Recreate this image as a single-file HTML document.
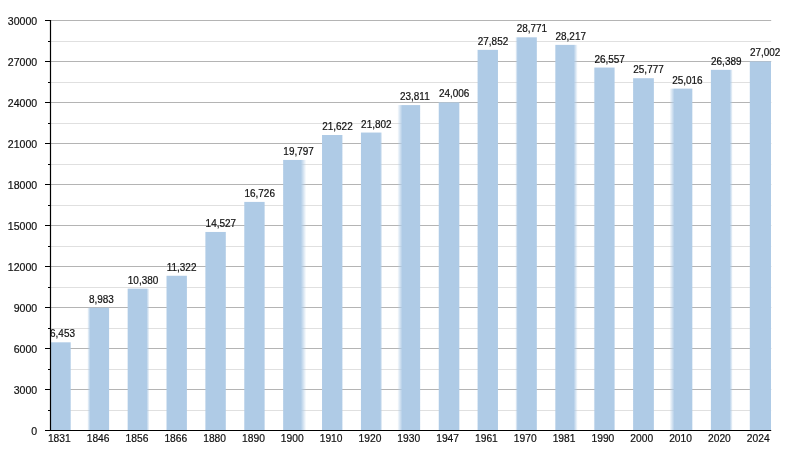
<!DOCTYPE html><html><head><meta charset="utf-8"><title>Population chart</title><style>html,body{margin:0;padding:0;background:#fff}svg{display:block}text{font-family:"Liberation Sans",Arial,Helvetica,sans-serif;fill:#111;stroke:#111;stroke-width:0.2px}</style></head><body>
<svg width="800" height="450" viewBox="0 0 800 450">
<defs><filter id="b" x="-10%" y="-1%" width="120%" height="102%"><feGaussianBlur stdDeviation="0.01 0.35"/></filter></defs>
<rect width="800" height="450" fill="#fff"/>
<line x1="50.5" x2="771.2" y1="410.50" y2="410.50" stroke="#e0e0e0" stroke-width="1"/>
<line x1="50.5" x2="771.2" y1="389.50" y2="389.50" stroke="#b4b4b4" stroke-width="1"/>
<line x1="50.5" x2="771.2" y1="369.50" y2="369.50" stroke="#e0e0e0" stroke-width="1"/>
<line x1="50.5" x2="771.2" y1="348.50" y2="348.50" stroke="#b4b4b4" stroke-width="1"/>
<line x1="50.5" x2="771.2" y1="328.50" y2="328.50" stroke="#e0e0e0" stroke-width="1"/>
<line x1="50.5" x2="771.2" y1="307.50" y2="307.50" stroke="#b4b4b4" stroke-width="1"/>
<line x1="50.5" x2="771.2" y1="287.50" y2="287.50" stroke="#e0e0e0" stroke-width="1"/>
<line x1="50.5" x2="771.2" y1="266.50" y2="266.50" stroke="#b4b4b4" stroke-width="1"/>
<line x1="50.5" x2="771.2" y1="246.50" y2="246.50" stroke="#e0e0e0" stroke-width="1"/>
<line x1="50.5" x2="771.2" y1="225.50" y2="225.50" stroke="#b4b4b4" stroke-width="1"/>
<line x1="50.5" x2="771.2" y1="205.50" y2="205.50" stroke="#e0e0e0" stroke-width="1"/>
<line x1="50.5" x2="771.2" y1="184.50" y2="184.50" stroke="#b4b4b4" stroke-width="1"/>
<line x1="50.5" x2="771.2" y1="164.50" y2="164.50" stroke="#e0e0e0" stroke-width="1"/>
<line x1="50.5" x2="771.2" y1="143.50" y2="143.50" stroke="#b4b4b4" stroke-width="1"/>
<line x1="50.5" x2="771.2" y1="123.50" y2="123.50" stroke="#e0e0e0" stroke-width="1"/>
<line x1="50.5" x2="771.2" y1="102.50" y2="102.50" stroke="#b4b4b4" stroke-width="1"/>
<line x1="50.5" x2="771.2" y1="82.50" y2="82.50" stroke="#e0e0e0" stroke-width="1"/>
<line x1="50.5" x2="771.2" y1="61.50" y2="61.50" stroke="#b4b4b4" stroke-width="1"/>
<line x1="50.5" x2="771.2" y1="41.50" y2="41.50" stroke="#e0e0e0" stroke-width="1"/>
<line x1="50.5" x2="771.2" y1="20.50" y2="20.50" stroke="#b4b4b4" stroke-width="1"/>
<defs>
<linearGradient id="g0" x1="0" y1="0" x2="1" y2="0"><stop offset="0" stop-color="#afcbe6" stop-opacity="0"/><stop offset="0.0282" stop-color="#afcbe6"/><stop offset="0.9437" stop-color="#afcbe6"/><stop offset="1" stop-color="#afcbe6" stop-opacity="0"/></linearGradient>
<linearGradient id="g1" x1="0" y1="0" x2="1" y2="0"><stop offset="0" stop-color="#afcbe6" stop-opacity="0"/><stop offset="0.1339" stop-color="#afcbe6"/><stop offset="0.9554" stop-color="#afcbe6"/><stop offset="1" stop-color="#afcbe6" stop-opacity="0"/></linearGradient>
<linearGradient id="g2" x1="0" y1="0" x2="1" y2="0"><stop offset="0" stop-color="#afcbe6" stop-opacity="0"/><stop offset="0.0446" stop-color="#afcbe6"/><stop offset="0.8661" stop-color="#afcbe6"/><stop offset="1" stop-color="#afcbe6" stop-opacity="0"/></linearGradient>
<linearGradient id="g3" x1="0" y1="0" x2="1" y2="0"><stop offset="0" stop-color="#afcbe6" stop-opacity="0"/><stop offset="0.0467" stop-color="#afcbe6"/><stop offset="0.9533" stop-color="#afcbe6"/><stop offset="1" stop-color="#afcbe6" stop-opacity="0"/></linearGradient>
<linearGradient id="g4" x1="0" y1="0" x2="1" y2="0"><stop offset="0" stop-color="#afcbe6" stop-opacity="0"/><stop offset="0.0467" stop-color="#afcbe6"/><stop offset="0.9533" stop-color="#afcbe6"/><stop offset="1" stop-color="#afcbe6" stop-opacity="0"/></linearGradient>
<linearGradient id="g5" x1="0" y1="0" x2="1" y2="0"><stop offset="0" stop-color="#afcbe6" stop-opacity="0"/><stop offset="0.0463" stop-color="#afcbe6"/><stop offset="0.9352" stop-color="#afcbe6"/><stop offset="1" stop-color="#afcbe6" stop-opacity="0"/></linearGradient>
<linearGradient id="g6" x1="0" y1="0" x2="1" y2="0"><stop offset="0" stop-color="#afcbe6" stop-opacity="0"/><stop offset="0.0424" stop-color="#afcbe6"/><stop offset="0.7712" stop-color="#afcbe6"/><stop offset="1" stop-color="#afcbe6" stop-opacity="0"/></linearGradient>
<linearGradient id="g7" x1="0" y1="0" x2="1" y2="0"><stop offset="0" stop-color="#afcbe6" stop-opacity="0"/><stop offset="0.0467" stop-color="#afcbe6"/><stop offset="0.9533" stop-color="#afcbe6"/><stop offset="1" stop-color="#afcbe6" stop-opacity="0"/></linearGradient>
<linearGradient id="g8" x1="0" y1="0" x2="1" y2="0"><stop offset="0" stop-color="#afcbe6" stop-opacity="0"/><stop offset="0.0457" stop-color="#afcbe6"/><stop offset="0.9087" stop-color="#afcbe6"/><stop offset="1" stop-color="#afcbe6" stop-opacity="0"/></linearGradient>
<linearGradient id="g9" x1="0" y1="0" x2="1" y2="0"><stop offset="0" stop-color="#afcbe6" stop-opacity="0"/><stop offset="0.2137" stop-color="#afcbe6"/><stop offset="0.9573" stop-color="#afcbe6"/><stop offset="1" stop-color="#afcbe6" stop-opacity="0"/></linearGradient>
<linearGradient id="g10" x1="0" y1="0" x2="1" y2="0"><stop offset="0" stop-color="#afcbe6" stop-opacity="0"/><stop offset="0.0467" stop-color="#afcbe6"/><stop offset="0.9533" stop-color="#afcbe6"/><stop offset="1" stop-color="#afcbe6" stop-opacity="0"/></linearGradient>
<linearGradient id="g11" x1="0" y1="0" x2="1" y2="0"><stop offset="0" stop-color="#afcbe6" stop-opacity="0"/><stop offset="0.0467" stop-color="#afcbe6"/><stop offset="0.9533" stop-color="#afcbe6"/><stop offset="1" stop-color="#afcbe6" stop-opacity="0"/></linearGradient>
<linearGradient id="g12" x1="0" y1="0" x2="1" y2="0"><stop offset="0" stop-color="#afcbe6" stop-opacity="0"/><stop offset="0.1086" stop-color="#afcbe6"/><stop offset="0.9548" stop-color="#afcbe6"/><stop offset="1" stop-color="#afcbe6" stop-opacity="0"/></linearGradient>
<linearGradient id="g13" x1="0" y1="0" x2="1" y2="0"><stop offset="0" stop-color="#afcbe6" stop-opacity="0"/><stop offset="0.0437" stop-color="#afcbe6"/><stop offset="0.8253" stop-color="#afcbe6"/><stop offset="1" stop-color="#afcbe6" stop-opacity="0"/></linearGradient>
<linearGradient id="g14" x1="0" y1="0" x2="1" y2="0"><stop offset="0" stop-color="#afcbe6" stop-opacity="0"/><stop offset="0.0737" stop-color="#afcbe6"/><stop offset="0.9539" stop-color="#afcbe6"/><stop offset="1" stop-color="#afcbe6" stop-opacity="0"/></linearGradient>
<linearGradient id="g15" x1="0" y1="0" x2="1" y2="0"><stop offset="0" stop-color="#afcbe6" stop-opacity="0"/><stop offset="0.0467" stop-color="#afcbe6"/><stop offset="0.9533" stop-color="#afcbe6"/><stop offset="1" stop-color="#afcbe6" stop-opacity="0"/></linearGradient>
<linearGradient id="g16" x1="0" y1="0" x2="1" y2="0"><stop offset="0" stop-color="#afcbe6" stop-opacity="0"/><stop offset="0.2137" stop-color="#afcbe6"/><stop offset="0.9573" stop-color="#afcbe6"/><stop offset="1" stop-color="#afcbe6" stop-opacity="0"/></linearGradient>
<linearGradient id="g17" x1="0" y1="0" x2="1" y2="0"><stop offset="0" stop-color="#afcbe6" stop-opacity="0"/><stop offset="0.0446" stop-color="#afcbe6"/><stop offset="0.8661" stop-color="#afcbe6"/><stop offset="1" stop-color="#afcbe6" stop-opacity="0"/></linearGradient>
<linearGradient id="g18" x1="0" y1="0" x2="1" y2="0"><stop offset="0" stop-color="#afcbe6" stop-opacity="0"/><stop offset="0.0469" stop-color="#afcbe6"/><stop offset="0.9624" stop-color="#afcbe6"/><stop offset="1" stop-color="#afcbe6" stop-opacity="0"/></linearGradient>
</defs>
<g filter="url(#b)">
<rect x="49.56" y="342.31" width="21.80" height="88.19" fill="url(#g0)"/>
<rect x="87.24" y="307.73" width="22.40" height="122.77" fill="url(#g1)"/>
<rect x="127.12" y="288.64" width="22.40" height="141.86" fill="url(#g2)"/>
<rect x="166.01" y="275.77" width="21.40" height="154.73" fill="url(#g3)"/>
<rect x="204.89" y="231.96" width="21.40" height="198.54" fill="url(#g4)"/>
<rect x="243.77" y="201.91" width="21.60" height="228.59" fill="url(#g5)"/>
<rect x="282.65" y="159.94" width="23.60" height="270.56" fill="url(#g6)"/>
<rect x="321.53" y="135.00" width="21.40" height="295.50" fill="url(#g7)"/>
<rect x="360.42" y="132.54" width="21.90" height="297.96" fill="url(#g8)"/>
<rect x="397.30" y="105.08" width="23.40" height="325.42" fill="url(#g9)"/>
<rect x="438.18" y="102.42" width="21.70" height="328.08" fill="url(#g10)"/>
<rect x="477.06" y="49.86" width="21.40" height="380.64" fill="url(#g11)"/>
<rect x="515.24" y="37.30" width="22.10" height="393.20" fill="url(#g12)"/>
<rect x="554.83" y="44.87" width="22.90" height="385.63" fill="url(#g13)"/>
<rect x="593.41" y="67.55" width="21.70" height="362.95" fill="url(#g14)"/>
<rect x="632.59" y="78.21" width="21.80" height="352.29" fill="url(#g15)"/>
<rect x="669.47" y="88.61" width="23.40" height="341.89" fill="url(#g16)"/>
<rect x="710.35" y="69.85" width="22.40" height="360.65" fill="url(#g17)"/>
<rect x="749.24" y="61.47" width="22.20" height="369.03" fill="url(#g18)"/>
</g>
<line x1="50.5" x2="50.5" y1="20.0" y2="431.0" stroke="#000" stroke-width="1.2"/>
<line x1="45" x2="771.2" y1="430.5" y2="430.5" stroke="#000" stroke-width="1.2"/>
<line x1="45" x2="50.5" y1="430.50" y2="430.50" stroke="#000" stroke-width="1"/>
<text x="37.2" y="434.80" font-size="10.55" text-anchor="end">0</text>
<line x1="48" x2="50.5" y1="410.50" y2="410.50" stroke="#000" stroke-width="1"/>
<line x1="45" x2="50.5" y1="389.50" y2="389.50" stroke="#000" stroke-width="1"/>
<text x="37.2" y="393.80" font-size="10.55" text-anchor="end">3000</text>
<line x1="48" x2="50.5" y1="369.50" y2="369.50" stroke="#000" stroke-width="1"/>
<line x1="45" x2="50.5" y1="348.50" y2="348.50" stroke="#000" stroke-width="1"/>
<text x="37.2" y="352.80" font-size="10.55" text-anchor="end">6000</text>
<line x1="48" x2="50.5" y1="328.50" y2="328.50" stroke="#000" stroke-width="1"/>
<line x1="45" x2="50.5" y1="307.50" y2="307.50" stroke="#000" stroke-width="1"/>
<text x="37.2" y="311.80" font-size="10.55" text-anchor="end">9000</text>
<line x1="48" x2="50.5" y1="287.50" y2="287.50" stroke="#000" stroke-width="1"/>
<line x1="45" x2="50.5" y1="266.50" y2="266.50" stroke="#000" stroke-width="1"/>
<text x="37.2" y="270.80" font-size="10.55" text-anchor="end">12000</text>
<line x1="48" x2="50.5" y1="246.50" y2="246.50" stroke="#000" stroke-width="1"/>
<line x1="45" x2="50.5" y1="225.50" y2="225.50" stroke="#000" stroke-width="1"/>
<text x="37.2" y="229.80" font-size="10.55" text-anchor="end">15000</text>
<line x1="48" x2="50.5" y1="205.50" y2="205.50" stroke="#000" stroke-width="1"/>
<line x1="45" x2="50.5" y1="184.50" y2="184.50" stroke="#000" stroke-width="1"/>
<text x="37.2" y="188.80" font-size="10.55" text-anchor="end">18000</text>
<line x1="48" x2="50.5" y1="164.50" y2="164.50" stroke="#000" stroke-width="1"/>
<line x1="45" x2="50.5" y1="143.50" y2="143.50" stroke="#000" stroke-width="1"/>
<text x="37.2" y="147.80" font-size="10.55" text-anchor="end">21000</text>
<line x1="48" x2="50.5" y1="123.50" y2="123.50" stroke="#000" stroke-width="1"/>
<line x1="45" x2="50.5" y1="102.50" y2="102.50" stroke="#000" stroke-width="1"/>
<text x="37.2" y="106.80" font-size="10.55" text-anchor="end">24000</text>
<line x1="48" x2="50.5" y1="82.50" y2="82.50" stroke="#000" stroke-width="1"/>
<line x1="45" x2="50.5" y1="61.50" y2="61.50" stroke="#000" stroke-width="1"/>
<text x="37.2" y="65.80" font-size="10.55" text-anchor="end">27000</text>
<line x1="48" x2="50.5" y1="41.50" y2="41.50" stroke="#000" stroke-width="1"/>
<line x1="45" x2="50.5" y1="20.50" y2="20.50" stroke="#000" stroke-width="1"/>
<text x="37.2" y="24.80" font-size="10.55" text-anchor="end">30000</text>
<clipPath id="c"><rect x="50.8" y="0" width="760" height="450"/></clipPath>
<g clip-path="url(#c)">
<text transform="translate(50.06 337.31) scale(0.967 1)" font-size="10.3">6,453</text>
<text transform="translate(88.94 302.73) scale(0.967 1)" font-size="10.3">8,983</text>
<text transform="translate(127.82 283.64) scale(0.967 1)" font-size="10.3">10,380</text>
<text transform="translate(166.71 270.77) scale(0.967 1)" font-size="10.3">11,322</text>
<text transform="translate(205.59 226.96) scale(0.967 1)" font-size="10.3">14,527</text>
<text transform="translate(244.47 196.91) scale(0.967 1)" font-size="10.3">16,726</text>
<text transform="translate(283.35 154.94) scale(0.967 1)" font-size="10.3">19,797</text>
<text transform="translate(322.23 130.00) scale(0.967 1)" font-size="10.3">21,622</text>
<text transform="translate(361.12 127.54) scale(0.967 1)" font-size="10.3">21,802</text>
<text transform="translate(400.00 100.08) scale(0.967 1)" font-size="10.3">23,811</text>
<text transform="translate(438.88 97.42) scale(0.967 1)" font-size="10.3">24,006</text>
<text transform="translate(477.76 44.86) scale(0.967 1)" font-size="10.3">27,852</text>
<text transform="translate(516.64 32.30) scale(0.967 1)" font-size="10.3">28,771</text>
<text transform="translate(555.53 39.87) scale(0.967 1)" font-size="10.3">28,217</text>
<text transform="translate(594.41 62.55) scale(0.967 1)" font-size="10.3">26,557</text>
<text transform="translate(633.29 73.21) scale(0.967 1)" font-size="10.3">25,777</text>
<text transform="translate(672.17 83.61) scale(0.967 1)" font-size="10.3">25,016</text>
<text transform="translate(711.05 64.85) scale(0.967 1)" font-size="10.3">26,389</text>
<text transform="translate(749.94 56.47) scale(0.967 1)" font-size="10.3">27,002</text>
</g>
<text x="59.30" y="442.2" font-size="10.25" text-anchor="middle">1831</text>
<text x="98.13" y="442.2" font-size="10.25" text-anchor="middle">1846</text>
<text x="136.96" y="442.2" font-size="10.25" text-anchor="middle">1856</text>
<text x="175.79" y="442.2" font-size="10.25" text-anchor="middle">1866</text>
<text x="214.62" y="442.2" font-size="10.25" text-anchor="middle">1880</text>
<text x="253.45" y="442.2" font-size="10.25" text-anchor="middle">1890</text>
<text x="292.28" y="442.2" font-size="10.25" text-anchor="middle">1900</text>
<text x="331.11" y="442.2" font-size="10.25" text-anchor="middle">1910</text>
<text x="369.94" y="442.2" font-size="10.25" text-anchor="middle">1920</text>
<text x="408.77" y="442.2" font-size="10.25" text-anchor="middle">1930</text>
<text x="447.60" y="442.2" font-size="10.25" text-anchor="middle">1947</text>
<text x="486.43" y="442.2" font-size="10.25" text-anchor="middle">1961</text>
<text x="525.26" y="442.2" font-size="10.25" text-anchor="middle">1970</text>
<text x="564.09" y="442.2" font-size="10.25" text-anchor="middle">1981</text>
<text x="602.92" y="442.2" font-size="10.25" text-anchor="middle">1990</text>
<text x="641.75" y="442.2" font-size="10.25" text-anchor="middle">2000</text>
<text x="680.58" y="442.2" font-size="10.25" text-anchor="middle">2010</text>
<text x="719.41" y="442.2" font-size="10.25" text-anchor="middle">2020</text>
<text x="758.24" y="442.2" font-size="10.25" text-anchor="middle">2024</text>
</svg></body></html>
